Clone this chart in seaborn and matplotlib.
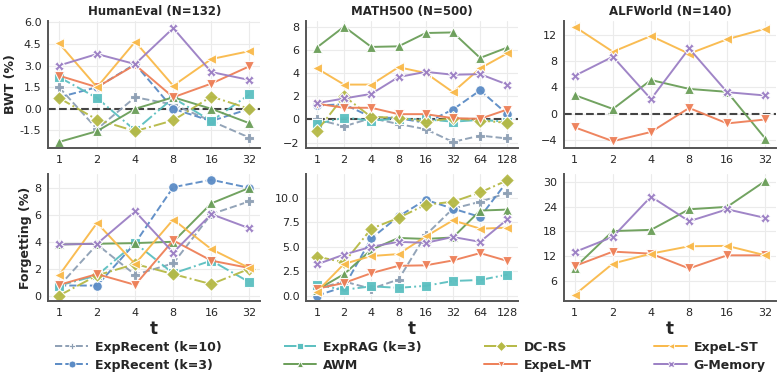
import numpy as np
import pandas as pd
import matplotlib
matplotlib.use("Agg")
import matplotlib.pyplot as plt
import seaborn as sns
from matplotlib.lines import Line2D

# x values (t)
t_short = [1, 2, 4, 8, 16, 32]
t_long = [1, 2, 4, 8, 16, 32, 64, 128]

methods = ["ExpRecent (k=10)", "ExpRecent (k=3)", "ExpRAG (k=3)", "AWM",
           "DC-RS", "ExpeL-MT", "ExpeL-ST", "G-Memory"]

# BWT (%) values
bwt_humaneval = {
    "ExpRecent (k=10)": [1.5, -1.4, 0.8, 0.3, -0.85, -2.0],
    "ExpRecent (k=3)": [0.8, 1.5, 3.1, 0.0, -0.85, 0.0],
    "ExpRAG (k=3)": [2.2, 0.75, -1.5, 0.75, -0.85, 1.0],
    "AWM": [-2.3, -1.55, 0.0, 0.8, 0.0, -1.0],
    "DC-RS": [0.75, -0.75, -1.55, -0.8, 0.85, 0.0],
    "ExpeL-MT": [2.3, 1.5, 3.05, 0.8, 1.75, 2.95],
    "ExpeL-ST": [4.55, 1.5, 4.65, 1.6, 3.45, 4.0],
    "G-Memory": [3.0, 3.8, 3.1, 5.6, 2.55, 2.0],
}
bwt_math500 = {
    "ExpRecent (k=10)": [0.0, -0.6, 0.1, -0.4, -0.85, -1.95, -1.4, -1.65],
    "ExpRecent (k=3)": [1.2, 1.3, 0.2, 0.1, -0.3, 0.85, 2.5, 0.45],
    "ExpRAG (k=3)": [-0.4, 0.15, -0.1, 0.05, 0.0, -0.2, -0.05, -0.2],
    "AWM": [6.2, 8.0, 6.25, 6.3, 7.45, 7.5, 5.3, 6.2],
    "DC-RS": [-1.0, 2.0, 0.2, 0.15, -0.2, 0.1, -0.1, -0.3],
    "ExpeL-MT": [1.35, 1.0, 1.0, 0.45, 0.45, 0.1, 0.05, 0.85],
    "ExpeL-ST": [4.4, 3.0, 3.0, 4.5, 4.0, 2.35, 4.4, 5.7],
    "G-Memory": [1.4, 1.8, 2.2, 3.65, 4.1, 3.85, 3.9, 3.0],
}
bwt_alfworld = {
    "AWM": [2.8, 0.7, 5.1, 3.75, 3.3, -3.8],
    "ExpeL-MT": [-2.1, -4.2, -2.8, 0.85, -1.5, -0.9],
    "ExpeL-ST": [13.2, 9.4, 11.8, 9.1, 11.3, 12.9],
    "G-Memory": [5.75, 8.65, 2.2, 9.9, 3.25, 2.75],
}

# Forgetting (%) values
fgt_humaneval = {
    "ExpRecent (k=10)": [0.7, 3.8, 1.55, 2.4, 6.05, 7.0],
    "ExpRecent (k=3)": [0.75, 0.75, 3.9, 8.05, 8.6, 8.0],
    "ExpRAG (k=3)": [0.75, 1.5, 3.9, 1.65, 2.6, 1.0],
    "AWM": [3.8, 3.85, 3.9, 4.0, 6.85, 8.0],
    "DC-RS": [0.0, 1.5, 2.35, 1.6, 0.85, 2.0],
    "ExpeL-MT": [0.8, 1.6, 0.8, 4.1, 2.6, 2.05],
    "ExpeL-ST": [1.5, 5.4, 2.35, 5.65, 3.45, 2.05],
    "G-Memory": [3.8, 3.85, 6.25, 3.2, 6.05, 5.0],
}
fgt_math500 = {
    "ExpRecent (k=10)": [0.7, 1.45, 0.7, 1.65, 6.2, 8.9, 9.6, 10.5],
    "ExpRecent (k=3)": [0.0, 0.9, 5.85, 8.1, 9.8, 8.9, 8.05, 11.7],
    "ExpRAG (k=3)": [1.1, 0.6, 0.95, 0.8, 1.0, 1.5, 1.6, 2.15],
    "AWM": [0.6, 2.2, 4.7, 5.9, 5.8, 5.95, 8.7, 8.8],
    "DC-RS": [4.0, 3.4, 6.85, 7.95, 9.3, 9.6, 10.55, 11.8],
    "ExpeL-MT": [0.7, 1.3, 2.3, 3.05, 3.1, 3.6, 4.35, 3.55],
    "ExpeL-ST": [0.4, 3.25, 4.05, 4.25, 6.05, 7.7, 6.85, 6.95],
    "G-Memory": [3.2, 4.2, 5.0, 5.5, 5.4, 6.0, 5.5, 7.8],
}
fgt_alfworld = {
    "AWM": [9.2, 18.1, 18.4, 23.4, 24.0, 30.3],
    "ExpeL-MT": [9.6, 13.1, 12.6, 9.0, 12.2, 12.2],
    "ExpeL-ST": [2.6, 10.2, 12.6, 14.4, 14.5, 12.2],
    "G-Memory": [13.0, 16.7, 26.5, 20.5, 23.4, 21.3],
}

titles = ["HumanEval (N=132)", "MATH500 (N=500)", "ALFWorld (N=140)"]

styles = {
    "ExpRecent (k=10)": dict(color="#8d9fb4", marker="P", ls="--"),
    "ExpRecent (k=3)": dict(color="#5b8bc5", marker="o", ls="--"),
    "ExpRAG (k=3)": dict(color="#5bbfc0", marker="s", ls="-."),
    "AWM": dict(color="#6a9e58", marker="^", ls="-"),
    "DC-RS": dict(color="#b5b945", marker="D", ls="-."),
    "ExpeL-MT": dict(color="#ee7f57", marker="v", ls="-"),
    "ExpeL-ST": dict(color="#f9b94a", marker="<", ls="-"),
    "G-Memory": dict(color="#9b7fc4", marker="X", ls="-"),
}

sns.set_theme(style="whitegrid")
plt.rcParams["font.family"] = ["DejaVu Sans"]

fig, axes = plt.subplots(2, 3, figsize=(7.82, 3.79), dpi=100)
fig.subplots_adjust(left=0.062, right=0.992, top=0.945, bottom=0.205,
                    wspace=0.22, hspace=0.21)

panels = [
    (0, 0, bwt_humaneval, t_short, (-2.7, 6.1), [-1.5, 0, 1.5, 3.0, 4.5, 6.0]),
    (0, 1, bwt_math500, t_long, (-2.45, 8.5), [-2, 0, 2, 4, 6, 8]),
    (0, 2, bwt_alfworld, t_short, (-5.2, 14.1), [-4, 0, 4, 8, 12]),
    (1, 0, fgt_humaneval, t_short, (-0.42, 9.0), [0, 2, 4, 6, 8]),
    (1, 1, fgt_math500, t_long, (-0.58, 12.4), [0, 2.5, 5, 7.5, 10]),
    (1, 2, fgt_alfworld, t_short, (1.0, 31.9), [6, 12, 18, 24, 30]),
]

for r, c, data, ts, ylim, yticks in panels:
    ax = axes[r, c]
    for m in methods:
        if m not in data:
            continue
        st = styles[m]
        sns.lineplot(x=ts, y=data[m], ax=ax, color=st["color"], marker=st["marker"],
                     linestyle=st["ls"], linewidth=1.4, markersize=7,
                     markeredgecolor="white", markeredgewidth=0.8, alpha=0.95)
    if r == 0:
        ax.axhline(0, color="#444444", ls="--", lw=1.5, zorder=1)
        ax.set_title(titles[c], fontsize=8.5, fontweight="bold", pad=4)
    ax.set_xscale("log", base=2)
    ax.set_xticks(ts)
    ax.set_xticklabels([str(v) for v in ts])
    ax.minorticks_off()
    pad = 0.055
    span = np.log2(ts[-1])
    ax.set_xlim(ts[0] / 2 ** (pad * span), ts[-1] * 2 ** (pad * span))
    ax.set_ylim(*ylim)
    ax.set_yticks(yticks)
    if r == 0 and c == 0:
        ax.set_yticklabels([f"{v:.1f}" for v in yticks])
    ax.tick_params(labelsize=8, length=3, width=1, color="#444444", pad=2)
    ax.grid(True, color="#ebebeb", lw=0.8)
    sns.despine(ax=ax)
    for s in ["left", "bottom"]:
        ax.spines[s].set_color("#555555")
        ax.spines[s].set_linewidth(1.4)
    ax.set_xlabel("t" if r == 1 else "", fontsize=12, fontweight="bold", labelpad=1)
    ax.set_ylabel("")

axes[0, 0].set_ylabel("BWT (%)", fontsize=9, fontweight="bold", labelpad=2)
axes[1, 0].set_ylabel("Forgetting (%)", fontsize=9, fontweight="bold", labelpad=2)

handles = [Line2D([0], [0], color=styles[m]["color"], marker=styles[m]["marker"],
                  linestyle=styles[m]["ls"], lw=1.4, markersize=5,
                  markeredgecolor="white", markeredgewidth=0.6) for m in methods]
fig.legend(handles, methods, loc="lower center", bbox_to_anchor=(0.525, -0.01), ncol=4,
           frameon=False, prop={"weight": "bold", "size": 9}, columnspacing=5.0,
           handlelength=2.6, handletextpad=0.55, labelspacing=0.4)

fig.savefig("out.png", dpi=100)
